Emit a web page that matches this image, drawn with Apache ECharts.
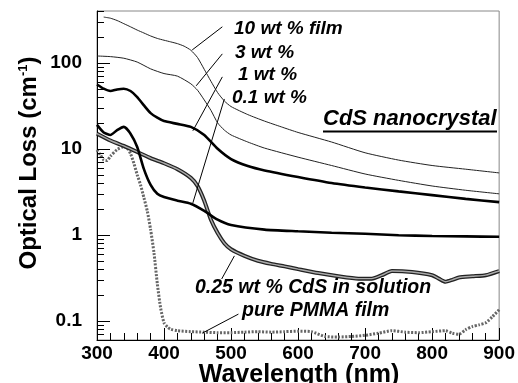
<!DOCTYPE html>
<html>
<head>
<meta charset="utf-8">
<script src="https://cdn.jsdelivr.net/npm/echarts@6/dist/echarts.min.js"></script>
<style>
html,body{margin:0;padding:0;background:#fff;}
#chart{width:518px;height:383px;}
</style>
</head>
<body>
<div id="chart"></div>
<script>
// ---- data ----
const wlFilm10 = [310,320,330,340,350,360,370,380,390,400,410,420,430,440,450,460,470,480,490,500,525,550,575,600,650,700,750,800,850,900];
const lossFilm10 = [340,330,310,285,262,240,222,205,192,183,175,167,156,140,115,84,61,45,36,31,25,21,18,15.5,12,9.0,7.4,6.4,5.8,5.25];

const wl3 = [300,320,340,360,380,400,420,440,450,460,470,480,490,500,525,550,600,650,700,750,800,850,900];
const loss3 = [120,118,113,102,85,75,70,57,48,37,28,20,16.5,14.5,12,10.2,8,6.4,5.1,4.3,3.7,3.3,3.0];

const wl1 = [300,310,320,330,340,350,360,370,380,390,400,420,440,460,480,500,525,550,600,650,700,750,800,850,900];
const loss1 = [56,50,47,49,50,47,40,32,26,23,21,19.5,18,14.5,10,7.6,6.3,5.6,4.7,4.0,3.55,3.2,2.9,2.62,2.4];

const wl01 = [300,310,320,330,340,350,360,370,380,390,400,420,440,460,480,500,550,600,650,700,750,800,850,900];
const loss01 = [19,15.5,14.5,16.5,18,15,10.5,5.8,3.8,3.0,2.75,2.5,2.3,1.9,1.5,1.3,1.15,1.1,1.06,1.03,0.99,0.97,0.96,0.95];

const wlSol = [300,320,340,360,380,400,420,440,450,460,470,480,490,500,520,540,560,580,600,630,660,690,710,725,740,770,800,810,820,830,840,860,880,900];
const lossSol = [15,12.5,10.8,9.2,7.8,6.8,5.8,4.6,3.7,2.5,1.5,1.05,0.8,0.68,0.57,0.5,0.46,0.43,0.4,0.36,0.33,0.31,0.31,0.34,0.38,0.37,0.34,0.31,0.285,0.3,0.32,0.33,0.34,0.38];

const wlPMMA = [300,305,310,315,320,330,340,345,350,355,360,365,370,375,380,385,390,395,400,405,410,420,440,460,480,500,520,540,560,580,600,620,640,660,680,700,720,740,760,780,800,820,830,840,850,860,870,880,890,900];
const lossPMMA = [9.7,8.5,7.4,7.3,8.2,9.8,10.6,10.2,8.8,6.8,5.0,3.8,2.7,1.9,1.15,0.62,0.27,0.14,0.095,0.085,0.08,0.077,0.075,0.074,0.073,0.073,0.074,0.075,0.074,0.075,0.076,0.075,0.066,0.065,0.066,0.068,0.072,0.077,0.074,0.073,0.075,0.077,0.072,0.07,0.079,0.086,0.09,0.095,0.112,0.135];

const xTicks = [300,400,500,600,700,800,900];
const yTickValues = [0.06,0.07,0.08,0.09,0.1,0.2,0.3,0.4,0.5,0.6,0.7,0.8,0.9,1,2,3,4,5,6,7,8,9,10,20,30,40,50,60,70,80,90,100,200,300,400];

const labels = {
  film10: '10 wt % film', w3: '3 wt %', w1: '1 wt %', w01: '0.1 wt %',
  sol: '0.25 wt % CdS in solution', pmma: 'pure PMMA film', title: 'CdS nanocrystal'
};

const FONT = '"Liberation Sans", Arial, Helvetica, sans-serif';
const zip = (a, b) => a.map((x, i) => [x, b[i]]);
const leader = (p1, p2) => ({
  silent: true, symbol: ['none', 'none'], animation: false,
  label: { show: false },
  lineStyle: { color: '#000', width: 1, type: 'solid' },
  data: [[{ coord: p1 }, { coord: p2 }]]
});

const chart = echarts.init(document.getElementById('chart'), null, { renderer: 'canvas' });

const isDecade = v => Math.abs(Math.log10(v) - Math.round(Math.log10(v))) < 1e-6;

chart.setOption({
  animation: false,
  backgroundColor: '#fff',
  grid: { left: 97, top: 11, right: 17, bottom: 43, show: true, borderColor: '#888', borderWidth: 1, backgroundColor: 'transparent' },
  xAxis: {
    type: 'value', min: 300, max: 900, interval: 100,
    axisLine: { show: true, lineStyle: { color: '#000', width: 1 } },
    axisTick: { show: true, inside: true, length: 12, lineStyle: { color: '#000', width: 1 } },
    minorTick: { show: true, splitNumber: 5, length: 7, lineStyle: { color: '#000', width: 1 } },
    splitLine: { show: false },
    axisLabel: { color: '#000', fontFamily: FONT, fontWeight: 'bold', fontSize: 19, margin: 4,
      formatter: v => xTicks.includes(v) ? String(v) : '' }
  },
  yAxis: {
    type: 'log', logBase: 10, min: 0.06, max: 400,
    axisLine: { show: true, lineStyle: { color: '#000', width: 1 } },
    axisTick: { show: false },
    splitLine: { show: false },
    axisLabel: { color: '#000', fontFamily: FONT, fontWeight: 'bold', fontSize: 19, margin: 15,
      formatter: v => isDecade(v) ? String(+Number(v).toPrecision(3)) : '' }
  },
  series: [
    {
      name: 'ticks', type: 'custom', coordinateSystem: 'cartesian2d', silent: true, z: 10,
      data: yTickValues.map(v => [300, v]),
      renderItem: (params, api) => {
        const v = api.value(1);
        const p = api.coord([300, v]);
        const len = isDecade(v) ? 13 : 7;
        const y = Math.round(p[1]) + 0.5;
        return { type: 'line', shape: { x1: p[0], y1: y, x2: p[0] + len, y2: y }, style: { stroke: '#000', lineWidth: 1 } };
      }
    },
    {
      name: labels.pmma, type: 'line', data: zip(wlPMMA, lossPMMA), showSymbol: false, smooth: 0.2,
      lineStyle: { color: '#666', width: 3, type: [2, 1.5] }, z: 2,
      markLine: leader([457, 0.072], [511, 0.12])
    },
    {
      name: labels.sol, type: 'line', data: zip(wlSol, lossSol), showSymbol: false, smooth: 0.2,
      lineStyle: { color: '#222', width: 4 }, z: 3,
      markLine: leader([505, 0.57], [486, 0.307])
    },
    {
      name: labels.sol + ' inner', type: 'line', data: zip(wlSol, lossSol), showSymbol: false, smooth: 0.2,
      lineStyle: { color: '#aaa', width: 1.4 }, z: 4
    },
    {
      name: labels.w01, type: 'line', data: zip(wl01, loss01), showSymbol: false, smooth: 0.2,
      lineStyle: { color: '#000', width: 2.6 }, z: 5,
      markLine: leader([443, 2.35], [490, 38])
    },
    {
      name: labels.w1, type: 'line', data: zip(wl1, loss1), showSymbol: false, smooth: 0.2,
      lineStyle: { color: '#000', width: 2.6 }, z: 5,
      markLine: leader([443, 16.2], [487, 68.6])
    },
    {
      name: labels.w3, type: 'line', data: zip(wl3, loss3), showSymbol: false, smooth: 0.2,
      lineStyle: { color: '#222', width: 1 }, z: 5,
      markLine: leader([448, 54], [487, 127])
    },
    {
      name: labels.film10, type: 'line', data: zip(wlFilm10, lossFilm10), showSymbol: false, smooth: 0.2,
      lineStyle: { color: '#222', width: 1 }, z: 5,
      markLine: leader([442, 141], [487, 262])
    }
  ],
  graphic: [
    { type: 'text', left: 234, top: 19, style: { text: labels.film10, font: 'italic bold 19px ' + FONT, fill: '#000' } },
    { type: 'text', left: 235, top: 43, style: { text: labels.w3, font: 'italic bold 19px ' + FONT, fill: '#000' } },
    { type: 'text', left: 238, top: 65, style: { text: labels.w1, font: 'italic bold 19px ' + FONT, fill: '#000' } },
    { type: 'text', left: 232, top: 88, style: { text: labels.w01, font: 'italic bold 19px ' + FONT, fill: '#000' } },
    { type: 'text', left: 323, top: 108, style: { text: labels.title, font: 'italic bold 22px ' + FONT, fill: '#000' } },
    { type: 'line', shape: { x1: 323, y1: 131.5, x2: 497, y2: 131.5 }, style: { stroke: '#000', lineWidth: 2 } },
    { type: 'text', left: 195, top: 278, style: { text: labels.sol, font: 'italic bold 19.5px ' + FONT, fill: '#000' } },
    { type: 'text', left: 242, top: 301, style: { text: labels.pmma, font: 'italic bold 19.5px ' + FONT, fill: '#000' } },
    { type: 'text', x: 299, y: 375, style: { text: 'Wavelength (nm)', font: 'bold 25px ' + FONT, fill: '#000', textAlign: 'center', textVerticalAlign: 'middle' } },
    { type: 'text', x: 29, y: 163, rotation: Math.PI / 2,
      style: { text: '{a|Optical Loss (cm}{b|-1}{a|)}', textAlign: 'center', textVerticalAlign: 'middle', fill: '#000',
        rich: { a: { font: 'bold 24px ' + FONT, fill: '#000' }, b: { font: 'bold 13px ' + FONT, fill: '#000', verticalAlign: 'top' } } } }
  ]
});
</script>
</body>
</html>
